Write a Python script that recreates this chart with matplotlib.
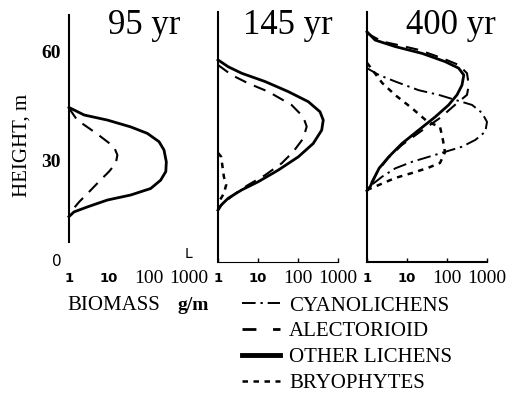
import matplotlib
matplotlib.use("Agg")
import matplotlib.pyplot as plt
from matplotlib.lines import Line2D

# biomass profiles, height (m) vs biomass (g/m)
titles = ["95 yr", "145 yr", "400 yr"]

h95_other = [44.6, 42.5, 41.1, 39.2, 37.4, 35.1, 32.8, 29.5, 26.8, 24.4, 22.1, 20.3, 18.9, 17.0, 15.6, 14.3]
b95_other = [1.0, 2.4, 9.1, 35, 91, 178, 237, 271, 263, 195, 110, 35, 9.1, 2.9, 1.33, 1.0]
h95_alect = [44.4, 41.1, 38.8, 36.5, 33.7, 31.4, 29.1, 26.8, 24.0, 21.2, 18.4, 15.6, 14.3]
b95_alect = [1.0, 1.6, 3.2, 6.2, 13.3, 16.2, 14.8, 10, 5.6, 3.2, 1.8, 1.1, 1.0]

h145_other = [57.8, 55.9, 54.1, 51.8, 49.0, 46.2, 43.4, 41.1, 38.3, 34.6, 30.9, 27.2, 24.0, 21.7, 19.4, 17.5, 16.1]
b145_other = [1.0, 1.8, 3.9, 15, 57, 181, 355, 428, 391, 240, 102, 32, 10.2, 3.9, 1.8, 1.2, 1.0]
h145_alect = [56.4, 53.6, 51.3, 49.0, 45.3, 42.0, 39.3, 36.0, 32.3, 29.1, 25.8, 23.1, 20.7, 18.4, 16.6]
b145_alect = [1.0, 2.2, 5.7, 18, 69, 135, 165, 135, 76, 39, 15, 5.7, 2.7, 1.5, 1.0]
h145_bryo = [32.0, 30.9, 25.4, 23.1, 20.7, 18.0]
b145_bryo = [1.0, 1.2, 1.4, 1.6, 1.4, 1.0]

h400_other = [65.6, 63.3, 61.5, 59.6, 57.3, 55.5, 53.6, 50.8, 48.1, 45.3, 42.0, 38.3, 34.6, 30.9, 27.7, 24.9, 22.6, 21.5]
b400_other = [1.0, 1.6, 5.1, 24, 91, 196, 263, 237, 178, 110, 51, 19.5, 7.5, 3.5, 2.0, 1.5, 1.2, 1.0]
h400_alect = [65.2, 62.9, 61.9, 60.6, 58.3, 56.4, 54.1, 50.8, 48.1, 45.3, 41.7, 37.8, 34.2, 30.6, 26.7, 23.1, 22.0]
b400_alect = [1.0, 2.4, 6.2, 19.5, 75, 196, 316, 350, 316, 158, 67, 21, 7.5, 3.4, 1.8, 1.2, 1.0]
h400_cyano = [55.5, 53.6, 51.8, 49.4, 48.1, 46.7, 45.3, 43.1, 40.6, 37.9, 35.6, 33.7, 32.3, 30.9, 29.5, 27.7, 25.4, 23.1, 22.0]
b400_cyano = [1.0, 2.0, 5.1, 19.5, 62, 162, 423, 750, 1000, 910, 513, 237, 91, 35, 13.3, 5.1, 2.4, 1.3, 1.0]
h400_bryo = [57.0, 51.4, 48.1, 44.4, 40.6, 39.2, 35.6, 32.2, 29.2, 27.8, 26.4, 25.0, 23.1, 21.7]
b400_bryo = [1.0, 2.4, 5.0, 13.3, 33, 67, 79, 89, 67, 33, 13.3, 5.0, 2.0, 1.0]

xticks = [1, 10, 100, 1000]
xticklabels = ["1", "10", "100", "1000"]
yticks = [30, 60]

legend_labels = ["CYANOLICHENS", "ALECTORIOID", "OTHER LICHENS", "BRYOPHYTES"]

SERIF = "Liberation Serif"
SANS = "DejaVu Sans"

sty = {
    "cyano": dict(color="black", lw=1.4, dashes=(7, 2.5, 1.2, 2.5)),
    "alect": dict(color="black", lw=1.5, dashes=(6, 4)),
    "other": dict(color="black", lw=2.0),
    "bryo": dict(color="black", lw=1.8, dashes=(2.2, 2.2)),
}

panels = [
    [("alect", b95_alect, h95_alect), ("other", b95_other, h95_other)],
    [("bryo", b145_bryo, h145_bryo), ("alect", b145_alect, h145_alect),
     ("other", b145_other, h145_other)],
    [("bryo", b400_bryo, h400_bryo), ("cyano", b400_cyano, h400_cyano),
     ("alect", b400_alect, h400_alect), ("other", b400_other, h400_other)],
]

W, H = 513, 393
fig = plt.figure(figsize=(W / 100, H / 100), dpi=100)

lefts = [69, 218, 367]
title_x = [0.625, 0.58, 0.70]

for i, left in enumerate(lefts):
    ax = fig.add_axes([left / W, 1 - 262 / H, 120 / W, 250 / H])
    ax.set_xscale("log")
    ax.set_xlim(1, 1000)
    ax.set_ylim(1.7, 71.1)
    for key, b, h in panels[i]:
        ax.plot(b, h, clip_on=False, solid_joinstyle="round", **sty[key])

    ax.spines["top"].set_visible(False)
    ax.spines["right"].set_visible(False)
    ax.spines["left"].set_linewidth(1.5)
    ax.minorticks_off()
    ax.set_xticks(xticks)
    ax.set_xticklabels(xticklabels)
    for lbl, txt in zip(ax.get_xticklabels(), xticklabels):
        if txt in ("1", "10"):
            lbl.set_fontfamily(SANS)
            lbl.set_fontweight("bold")
            lbl.set_fontsize(9.5)
        else:
            lbl.set_fontfamily(SERIF)
            lbl.set_fontsize(14)
        lbl.set_verticalalignment("center")
    ax.tick_params(axis="x", direction="in", length=3, width=1, pad=12)
    ax.tick_params(axis="y", length=0)

    if i == 0:
        ax.spines["bottom"].set_visible(False)
        ax.spines["left"].set_bounds(7.2, 70.3)
        ax.tick_params(axis="x", length=0)
        ax.set_yticks(yticks)
        ax.set_yticklabels([str(v) for v in yticks], fontfamily=SERIF,
                           fontsize=14, fontweight="bold")
        ax.tick_params(axis="y", pad=6)
        ax.text(-0.10, 0.0, "0", transform=ax.transAxes, fontfamily=SANS,
                fontsize=11, ha="center", va="center")
        ax.text(1.0, 0.03, "L", transform=ax.transAxes, fontfamily=SANS,
                fontsize=10, ha="center", va="center")
    else:
        ax.set_yticks([])
        ax.spines["bottom"].set_linewidth(0.8 if i == 1 else 1.5)

    ax.text(title_x[i], 0.944, titles[i], transform=ax.transAxes,
            fontfamily=SERIF, fontsize=25, ha="center", va="center")

fig.text(22 / W, 1 - 145 / H, "HEIGHT, m", rotation=90, fontfamily=SERIF,
         fontsize=15, ha="center", va="center")
fig.text(67 / W, 1 - 305 / H, "BIOMASS", fontfamily=SERIF, fontsize=15,
         ha="left", va="center")
fig.text(178 / W, 1 - 305 / H, "g/m", fontfamily=SERIF, fontsize=14,
         fontweight="bold", ha="left", va="center")

handles = [Line2D([], [], **sty["cyano"]),
           Line2D([], [], color="black", lw=2.0, dashes=(5, 6)),
           Line2D([], [], color="black", lw=3.5),
           Line2D([], [], **sty["bryo"])]
fig.legend(handles, legend_labels, loc="upper left",
           bbox_to_anchor=(242 / W, 1 - 296 / H), frameon=False,
           prop={"family": SERIF, "size": 15}, handlelength=1.8,
           handletextpad=0.45, labelspacing=0.3, borderpad=0,
           borderaxespad=0)

fig.savefig("out.png", dpi=100, facecolor="white")
